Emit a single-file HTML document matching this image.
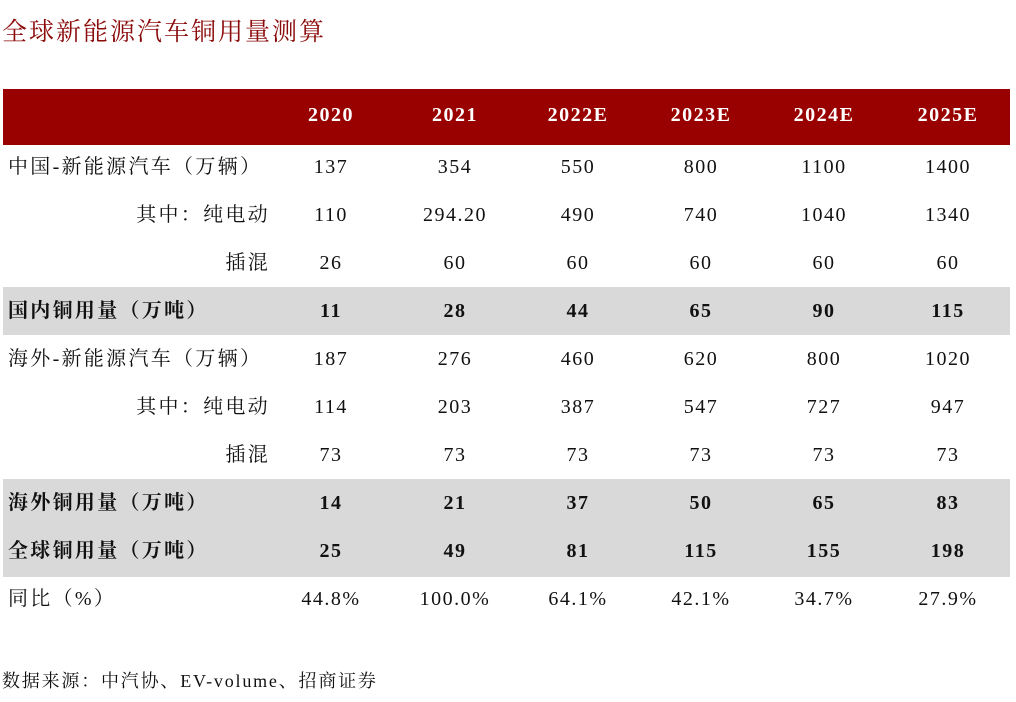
<!DOCTYPE html>
<html><head><meta charset="utf-8"><style>
body{margin:0;width:1016px;height:702px;background:#fff;position:relative;overflow:hidden;font-family:"Liberation Serif","Noto Serif CJK SC",serif;color:#111}
.t{position:absolute;left:2px;top:12px;font-size:25px;color:#8b0a0a;letter-spacing:2px}
.hdr{position:absolute;left:3px;top:89px;width:1007px;height:56px;background:#990000}
.g{position:absolute;left:3px;width:1007px;background:#d9d9d9}
.r{position:absolute;left:0;width:1016px;height:48px;font-size:20px;line-height:48px}
.r span{position:absolute;top:0;text-align:center;width:120px;letter-spacing:1.5px}
.r .l{text-align:left;width:300px;left:8px;letter-spacing:2.3px}
.r .rt{text-align:right;width:262px;left:8px;letter-spacing:2.3px}
.h{color:#fff;font-weight:bold}
.b{font-weight:bold}
.src{position:absolute;left:2px;top:667px;font-size:18px;letter-spacing:1.8px}
</style></head><body>
<div class="t">全球新能源汽车铜用量测算</div>
<div class="hdr"></div>
<div class="g" style="top:287px;height:48px"></div>
<div class="g" style="top:479px;height:98px"></div>

<div class="r h" style="top:91px"><span style="left:271px">2020</span><span style="left:395px">2021</span><span style="left:518px">2022E</span><span style="left:641px">2023E</span><span style="left:764px">2024E</span><span style="left:888px">2025E</span></div>

<div class="r" style="top:143px"><span class="l">中国-新能源汽车（万辆）</span><span style="left:271px">137</span><span style="left:395px">354</span><span style="left:518px">550</span><span style="left:641px">800</span><span style="left:764px">1100</span><span style="left:888px">1400</span></div>
<div class="r" style="top:191px"><span class="rt">其中：纯电动</span><span style="left:271px">110</span><span style="left:395px">294.20</span><span style="left:518px">490</span><span style="left:641px">740</span><span style="left:764px">1040</span><span style="left:888px">1340</span></div>
<div class="r" style="top:239px"><span class="rt">插混</span><span style="left:271px">26</span><span style="left:395px">60</span><span style="left:518px">60</span><span style="left:641px">60</span><span style="left:764px">60</span><span style="left:888px">60</span></div>
<div class="r b" style="top:287px"><span class="l">国内铜用量（万吨）</span><span style="left:271px">11</span><span style="left:395px">28</span><span style="left:518px">44</span><span style="left:641px">65</span><span style="left:764px">90</span><span style="left:888px">115</span></div>
<div class="r" style="top:335px"><span class="l">海外-新能源汽车（万辆）</span><span style="left:271px">187</span><span style="left:395px">276</span><span style="left:518px">460</span><span style="left:641px">620</span><span style="left:764px">800</span><span style="left:888px">1020</span></div>
<div class="r" style="top:383px"><span class="rt">其中：纯电动</span><span style="left:271px">114</span><span style="left:395px">203</span><span style="left:518px">387</span><span style="left:641px">547</span><span style="left:764px">727</span><span style="left:888px">947</span></div>
<div class="r" style="top:431px"><span class="rt">插混</span><span style="left:271px">73</span><span style="left:395px">73</span><span style="left:518px">73</span><span style="left:641px">73</span><span style="left:764px">73</span><span style="left:888px">73</span></div>
<div class="r b" style="top:479px"><span class="l">海外铜用量（万吨）</span><span style="left:271px">14</span><span style="left:395px">21</span><span style="left:518px">37</span><span style="left:641px">50</span><span style="left:764px">65</span><span style="left:888px">83</span></div>
<div class="r b" style="top:527px"><span class="l">全球铜用量（万吨）</span><span style="left:271px">25</span><span style="left:395px">49</span><span style="left:518px">81</span><span style="left:641px">115</span><span style="left:764px">155</span><span style="left:888px">198</span></div>
<div class="r" style="top:575px"><span class="l">同比（%）</span><span style="left:271px">44.8%</span><span style="left:395px">100.0%</span><span style="left:518px">64.1%</span><span style="left:641px">42.1%</span><span style="left:764px">34.7%</span><span style="left:888px">27.9%</span></div>

<div class="src">数据来源：中汽协、EV-volume、招商证券</div>
</body></html>
